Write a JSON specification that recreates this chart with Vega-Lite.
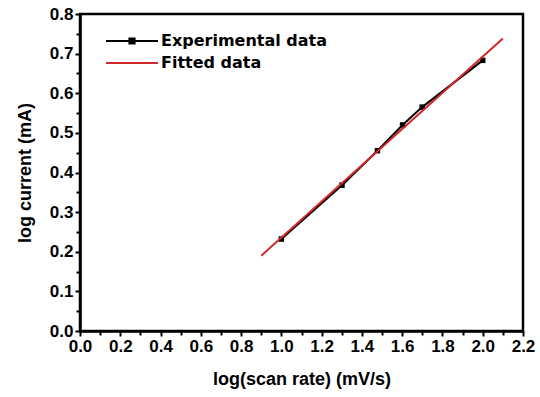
{
  "$schema": "https://vega.github.io/schema/vega-lite/v6.json",
  "width": 443,
  "height": 317,
  "autosize": {"type": "none"},
  "padding": {"left": 80, "top": 14, "right": 17, "bottom": 66},
  "background": "white",
  "config": {
    "view": {"stroke": "black", "strokeWidth": 2.5},
    "font": "Liberation Sans",
    "axis": {
      "domainColor": "black",
      "domainWidth": 2.5,
      "tickColor": "black",
      "tickWidth": 2,
      "grid": false,
      "labelFont": "Liberation Sans",
      "labelFontWeight": "bold",
      "labelFontSize": 17,
      "labelColor": "black",
      "titleFont": "Liberation Sans",
      "titleFontWeight": "bold",
      "titleFontSize": 18,
      "titleColor": "black"
    }
  },
  "data": {
    "values": [
      {"x": 1.0, "y": 0.232, "series": "Experimental data"},
      {"x": 1.301, "y": 0.368, "series": "Experimental data"},
      {"x": 1.477, "y": 0.455, "series": "Experimental data"},
      {"x": 1.602, "y": 0.52, "series": "Experimental data"},
      {"x": 1.699, "y": 0.565, "series": "Experimental data"},
      {"x": 2.0, "y": 0.683, "series": "Experimental data"},
      {"x": 0.9, "y": 0.19, "series": "Fitted data"},
      {"x": 2.1, "y": 0.738, "series": "Fitted data"}
    ]
  },
  "encoding": {
    "x": {
      "field": "x", "type": "quantitative",
      "scale": {"domain": [0, 2.2], "nice": false, "zero": false},
      "axis": {
        "title": "log(scan rate) (mV/s)",
        "values": [0,0.1,0.2,0.3,0.4,0.5,0.6,0.7,0.8,0.9,1.0,1.1,1.2,1.3,1.4,1.5,1.6,1.7,1.8,1.9,2.0,2.1,2.2],
        "labelExpr": "round(datum.value*10) % 2 == 0 ? format(datum.value, '.1f') : ''",
        "tickSize": {"condition": {"test": "round(datum.value*10) % 2 == 0", "value": 5}, "value": 4},
        "labelPadding": 2,
        "labelFlush": false,
        "titlePadding": 16
      }
    },
    "y": {
      "field": "y", "type": "quantitative",
      "scale": {"domain": [0, 0.8], "nice": false, "zero": false},
      "axis": {
        "title": "log current (mA)",
        "values": [0,0.05,0.1,0.15,0.2,0.25,0.3,0.35,0.4,0.45,0.5,0.55,0.6,0.65,0.7,0.75,0.8],
        "labelExpr": "round(datum.value*20) % 2 == 0 ? format(datum.value, '.1f') : ''",
        "tickSize": {"condition": {"test": "round(datum.value*20) % 2 == 0", "value": 5}, "value": 4},
        "labelPadding": 2,
        "labelFlush": false,
        "titlePadding": 15
      }
    }
  },
  "layer": [
    {
      "transform": [{"filter": "datum.series == 'Experimental data'"}],
      "mark": {"type": "line", "strokeWidth": 2},
      "encoding": {
        "color": {
          "field": "series", "type": "nominal",
          "scale": {"domain": ["Experimental data", "Fitted data"], "range": ["black", "#d02828"]},
          "legend": {
            "title": null,
            "orient": "none",
            "legendX": 25,
            "legendY": 16,
            "symbolSize": 2704,
            "symbolStrokeWidth": 2,
            "clipHeight": 22,
            "rowPadding": 0,
            "labelFont": "DejaVu Sans",
            "labelFontWeight": "bold",
            "labelFontSize": 16,
            "labelColor": "black",
            "labelOffset": 2,
            "labelLimit": 400,
            "encode": {
              "symbols": {
                "update": {
                  "shape": {"signal": "datum.value == 'Experimental data' ? 'M-1,0H1M-0.1,-0.1H0.1V0.1H-0.1Z' : 'M-1,0H1'"},
                  "fill": {"signal": "datum.value == 'Experimental data' ? 'black' : 'transparent'"}
                }
              }
            }
          }
        }
      }
    },
    {
      "transform": [{"filter": "datum.series == 'Experimental data'"}],
      "mark": {"type": "point", "shape": "square", "filled": true, "size": 30, "color": "black", "opacity": 1}
    },
    {
      "transform": [{"filter": "datum.series == 'Fitted data'"}],
      "mark": {"type": "line", "strokeWidth": 2},
      "encoding": {
        "color": {"field": "series", "type": "nominal"}
      }
    }
  ]
}
